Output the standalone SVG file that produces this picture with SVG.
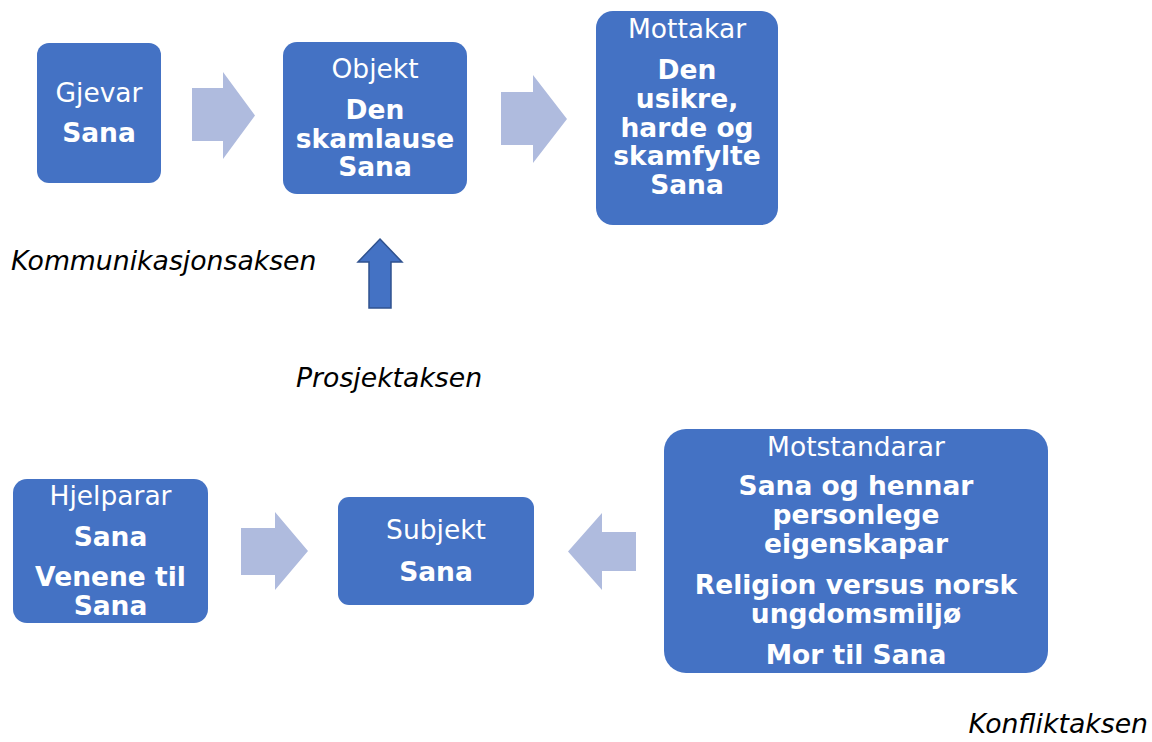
<svg xmlns="http://www.w3.org/2000/svg" width="1152" height="742" viewBox="0 0 1152 742">
<style>
.box{fill:#4472C4}
.t{font-family:"DejaVu Sans","Liberation Sans",sans-serif;font-size:26.5px;fill:#FFFFFF;text-anchor:middle}
.b{font-weight:bold}
.lbl{font-family:"DejaVu Sans","Liberation Sans",sans-serif;font-size:26.7px;font-style:italic;fill:#000000}
.arr{fill:#AFBBDE}
.up{fill:#4472C4;stroke:#2F528F;stroke-width:1.5}
</style>
<rect width="1152" height="742" fill="#FFFFFF"/>
<g id="connectors">
<polygon class="arr" points="192,88 223,88 223,72 255,115.5 223,159 223,141 192,141"/>
<polygon class="arr" points="501,92 533,92 533,75 567,119 533,163 533,145 501,145"/>
<polygon class="arr" points="241,528 275,528 275,512 308,551 275,590 275,575 241,575"/>
<polygon class="arr" points="636,532 602,532 602,513 568,551.5 602,590 602,571 636,571"/>
<polygon class="up" points="380,239 402,262 391,262 391,308 369,308 369,262 358,262"/>
</g>
<g id="gjevar">
<rect class="box" x="37" y="43" width="124" height="140" rx="12"/>
<text class="t" x="99" y="102">Gjevar</text>
<text class="t b" x="99" y="142">Sana</text>
</g>
<g id="objekt">
<rect class="box" x="283" y="42" width="184" height="152" rx="14"/>
<text class="t" x="375" y="78">Objekt</text>
<text class="t b" x="375" y="119">Den</text>
<text class="t b" x="375" y="148">skamlause</text>
<text class="t b" x="375" y="176">Sana</text>
</g>
<g id="mottakar">
<rect class="box" x="596" y="11" width="182" height="214" rx="17"/>
<text class="t" x="687" y="38">Mottakar</text>
<text class="t b" x="687" y="79">Den</text>
<text class="t b" x="687" y="108">usikre,</text>
<text class="t b" x="687" y="137">harde og</text>
<text class="t b" x="687" y="165">skamfylte</text>
<text class="t b" x="687" y="194">Sana</text>
</g>
<g id="hjelparar">
<rect class="box" x="13" y="479" width="195" height="144" rx="14"/>
<text class="t" x="110.5" y="505">Hjelparar</text>
<text class="t b" x="110.5" y="546">Sana</text>
<text class="t b" x="110.5" y="586">Venene til</text>
<text class="t b" x="110.5" y="615">Sana</text>
</g>
<g id="subjekt">
<rect class="box" x="338" y="497" width="196" height="108" rx="11"/>
<text class="t" x="436" y="539">Subjekt</text>
<text class="t b" x="436" y="581">Sana</text>
</g>
<g id="motstandarar">
<rect class="box" x="664" y="429" width="384" height="244" rx="22"/>
<text class="t" x="856" y="456">Motstandarar</text>
<text class="t b" x="856" y="495">Sana og hennar</text>
<text class="t b" x="856" y="524">personlege</text>
<text class="t b" x="856" y="553">eigenskapar</text>
<text class="t b" x="856" y="594">Religion versus norsk</text>
<text class="t b" x="856" y="623">ungdomsmiljø</text>
<text class="t b" x="856" y="664">Mor til Sana</text>
</g>
<g id="labels">
<text class="lbl" x="11" y="270">Kommunikasjonsaksen</text>
<text class="lbl" x="296" y="387">Prosjektaksen</text>
<text class="lbl" x="1148" y="733" text-anchor="end">Konfliktaksen</text>
</g>
</svg>
